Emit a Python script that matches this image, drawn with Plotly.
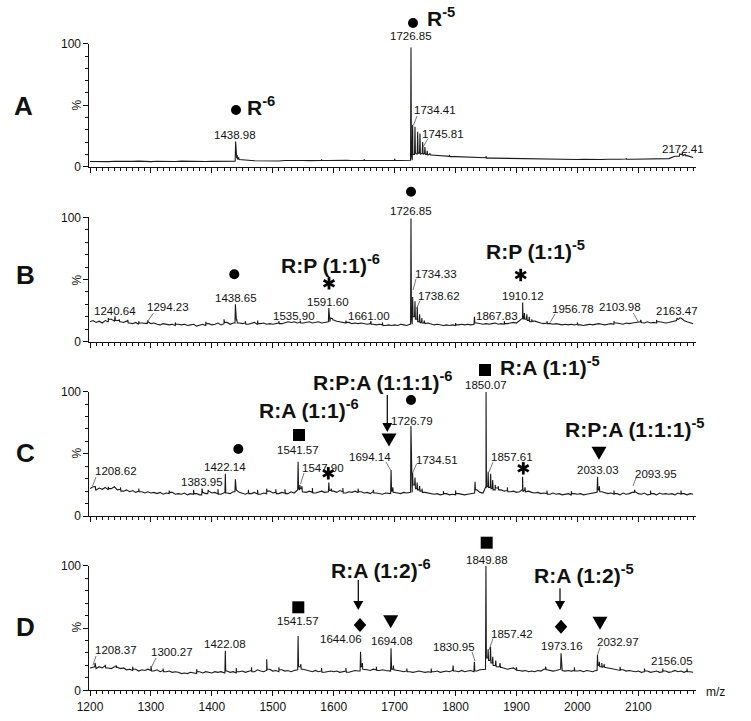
import plotly.graph_objects as go

W, H = 751, 721
FONT = "Liberation Sans, Arial, sans-serif"
INK = "#111111"

# ---------------- data ----------------
BASE_START = 1200
A_BASE_STEP = 10
A_baseline = [
    4.2, 4.0, 4.3, 4.1, 4.4, 4.2, 4.0, 4.3, 4.5, 4.2,
    4.1, 4.4, 4.3, 4.0, 4.2, 4.5, 4.3, 4.1, 4.4, 4.2,
    4.3, 4.4, 4.2, 4.5, 7.0, 5.8, 5.2, 4.8, 4.6, 4.5,
    4.7, 4.6, 5.0, 4.8, 5.2, 5.0, 4.9, 5.3, 5.1, 5.0,
    5.2, 5.0, 5.3, 5.1, 5.4, 5.2, 5.0, 5.3, 5.1, 5.0,
    5.2, 5.0, 5.3, 10.0, 11.0, 10.0, 9.5, 9.0, 8.6, 8.4,
    8.2, 8.0, 7.8, 7.6, 7.5, 7.3, 7.0, 6.9, 6.8, 6.6,
    6.5, 6.4, 6.3, 6.2, 6.0, 6.2, 6.0, 5.9, 6.1, 6.0,
    5.9, 6.0, 5.8, 6.0, 5.9, 6.1, 5.8, 6.0, 6.2, 6.0,
    6.1, 6.3, 6.0, 6.2, 6.4, 6.6, 8.5, 10.0, 9.0, 7.5]
A_peak_mz = [1438.98, 1441.5, 1444.0, 1580, 1650, 1700, 1726.85, 1729.6, 1733.4, 1737.8,
             1741.6, 1746.0, 1749.8, 1753.6, 1758.0, 1790, 1850, 2080, 2168, 2172.41, 2177]
A_peak_int = [20.4, 9.5, 7.5, 6.0, 6.2, 6.5, 97, 34, 32.5, 28.5,
              27, 20, 16, 13, 11, 9.5, 8.5, 7.0, 10.5, 11.0, 10.0]

STEP = 5
B_baseline = [
    16, 17, 15.5, 16.5, 15, 17, 16, 18, 16.5, 17,
    16, 15.5, 16.5, 15, 14.5, 15.5, 14, 15, 14.5, 16,
    14.5, 15, 14, 13.5, 14.5, 14, 13.5, 14, 13, 14,
    13.5, 14, 13, 13.5, 14, 12.5, 13.5, 14, 13, 14.5,
    13.5, 14, 15, 13.5, 14.5, 15.5, 14, 15, 17, 15,
    14.5, 15, 14, 14.5, 15.5, 14, 14.5, 15, 14, 14.5,
    14, 14.5, 15, 14.5, 15, 16, 15.5, 16, 15, 15.5,
    15, 15.5, 16, 15, 15.5, 16, 15, 15.5, 16, 19,
    17.5, 16.5, 16, 15.5, 15, 15.5, 14.5, 15, 14.5, 15,
    14.5, 14, 14.5, 14, 13.5, 14, 13.5, 13, 13.5, 13,
    13.5, 13, 14, 13.5, 13, 14, 20, 18, 16, 15,
    14.5, 15, 14, 13.5, 14, 13.5, 13, 13.5, 13, 13.5,
    13, 13.5, 14, 13.5, 14, 13.5, 14, 15, 14.5, 14,
    14.5, 14, 14.5, 15, 14, 14.5, 14, 14.5, 15, 15.5,
    15, 17, 19, 18, 17, 16, 16.5, 15.5, 15, 14.5,
    15, 14.5, 14, 14.5, 14, 13.5, 14, 13.5, 14, 13.5,
    14, 13.5, 13, 13.5, 14, 13.5, 14, 14.5, 14, 13.5,
    14, 14.5, 14, 15, 14.5, 14, 15, 14.5, 15, 15.5,
    16, 15.5, 15, 16, 15, 15.5, 15, 16, 15.5, 15,
    15.5, 16, 17, 18, 19, 17, 16, 15, 14.5]
B_peak_mz = [1230, 1241, 1248, 1262, 1294.6, 1420, 1438.65, 1441, 1475, 1592, 1594.5, 1598,
             1661, 1726.85, 1729.6, 1733.4, 1737.2, 1741, 1744.8, 1748.6, 1831, 1910.12,
             1913, 1917, 1921, 1925, 1950, 2104, 2163.47, 2167]
B_peak_int = [19, 20.5, 18, 17.5, 17, 18, 30, 18, 17, 27, 19, 18.5,
              16.5, 99, 36, 32.5, 28, 22, 19, 17, 20, 31.5,
              23, 22, 20, 18, 16.5, 17.5, 19, 18.5]
B_noise_mz = [1280, 1340, 1390, 1455, 1510, 1545, 1620, 1680, 1800, 1880, 2000, 2060, 2130]
B_noise_int = [16.5, 15.5, 16, 16.5, 16.5, 17, 17, 15.5, 15, 16.5, 15.5, 16.5, 17.5]

C_baseline = [
    22, 23.5, 21, 22.5, 21.5, 23, 21, 22, 23.5, 21,
    21.5, 20, 21, 19.5, 20.5, 19, 20, 19.5, 18.5, 19.5,
    18.5, 19, 18, 19, 17.5, 18.5, 18, 19, 17.5, 18,
    17.5, 18.5, 17, 18, 17.5, 18, 17, 19, 18, 20,
    18.5, 19, 18, 17.5, 19, 18.5, 18, 19.5, 21, 19,
    18.5, 17.5, 18.5, 18, 19, 18, 17.5, 18.5, 18, 20,
    18.5, 19, 18, 19, 18.5, 18, 19.5, 18.5, 21, 22,
    19.5, 19, 20, 19, 18.5, 19.5, 20, 19, 19.5, 20.5,
    20, 19, 20.5, 19.5, 18.5, 19.5, 19, 20, 19, 19.5,
    18.5, 19, 18, 19.5, 18.5, 18, 17.5, 18.5, 18, 20,
    19, 18.5, 18, 19, 18.5, 19, 25, 22, 21, 20,
    19, 18.5, 18, 17.5, 18, 17, 17.5, 18, 17, 17.5,
    17, 18, 17.5, 17, 17.5, 18, 18.5, 21, 19, 18.5,
    24, 23, 22, 21, 22.5, 21, 20, 20.5, 19.5, 20,
    19, 19.5, 21, 19.5, 20, 19, 18.5, 19, 18, 18.5,
    18, 17.5, 18.5, 17.5, 18, 17, 17.5, 18, 17, 18,
    17.5, 18, 17, 17.5, 18, 18.5, 19, 21, 19.5, 19,
    18, 18.5, 17.5, 18, 17, 18.5, 17.5, 18, 19, 19.5,
    18, 17.5, 18.5, 17, 17.5, 18, 17, 18.5, 17.5, 18,
    17.5, 18, 17, 18.5, 17.5, 18, 17, 18, 17.5]
C_peak_mz = [1208.62, 1230, 1384, 1394, 1422.14, 1438.6, 1460, 1490, 1520, 1541.57, 1544.5,
             1547.9, 1592, 1596, 1694.14, 1697, 1726.79, 1729.5, 1733.5, 1737, 1741, 1745,
             1832, 1850.07, 1853.5, 1857.61, 1861, 1865, 1870, 1910, 1914, 2033.03, 2036, 2094]
C_peak_int = [24, 23.5, 22, 21, 34, 29.5, 21, 22, 21.5, 43.7, 25,
              24, 27, 22, 37, 23, 72.4, 35, 31, 27, 24, 22,
              27.6, 100, 35.6, 34, 29, 25, 24, 31.6, 23, 31.6, 24, 21]
C_noise_mz = [1250, 1280, 1330, 1370, 1410, 1475, 1505, 1565, 1615, 1640, 1665, 1780, 1800,
              1885, 1950, 1990, 2060, 2120, 2170]
C_noise_int = [23, 22, 20.5, 21, 21.5, 21, 21.5, 22.5, 22.5, 22, 21, 20, 20.5,
               23, 20.5, 20, 20.5, 20.5, 20.5]

D_baseline = [
    18, 19, 17.5, 19, 18, 19.5, 18, 17.5, 19, 18.5,
    17.5, 18, 16.5, 17, 16, 17, 15.5, 16.5, 16, 17,
    16, 15.5, 16.5, 15, 16, 15, 15.5, 14.5, 15, 14.5,
    13.5, 14, 13.5, 14.5, 14, 13.5, 15, 14, 15, 14.5,
    14, 15, 14.5, 15, 14, 15.5, 14.5, 15, 14, 15,
    15.5, 14.5, 15, 16, 15, 16.5, 15.5, 15, 16, 17,
    15.5, 16, 15, 16.5, 15.5, 16, 15, 16, 16.5, 19,
    17, 16.5, 15.5, 15, 16, 15, 15.5, 14.5, 15, 15.5,
    15, 15.5, 14.5, 15, 15.5, 14.5, 15, 16, 15.5, 19,
    17, 16.5, 16, 17, 16.5, 16, 16.5, 16, 15.5, 17,
    16.5, 16, 15.5, 15, 15.5, 15, 14.5, 15, 15.5, 15,
    14.5, 15, 14.5, 15, 15.5, 14.5, 15, 15.5, 15, 16,
    15.5, 15, 16, 15, 15.5, 16, 15, 15.5, 16.5, 17,
    26, 24, 22, 20, 19, 18.5, 18, 17, 17.5, 18,
    16.5, 16, 15.5, 16, 15, 15.5, 15, 16, 15.5, 17,
    16.5, 16, 15.5, 16, 17, 16, 15.5, 16, 15.5, 16,
    15.5, 16, 15, 16, 15.5, 15, 16, 20, 19, 18.5,
    18, 17.5, 17, 16.5, 16, 16.5, 15.5, 16, 15.5, 15,
    15.5, 14.5, 15, 15.5, 14.5, 15, 15.5, 14.5, 15, 15.5,
    14.5, 15, 16, 15, 15.5, 14.5, 15.5, 15, 14.5]
D_peak_mz = [1208.37, 1243, 1300.27, 1422.08, 1490, 1541.57, 1546, 1644.06, 1647, 1694.08,
             1698, 1796, 1830.95, 1849.88, 1853.5, 1857.42, 1861, 1866, 1873, 1948,
             1973.16, 2032.97, 2036, 2040, 2044]
D_peak_int = [22, 20, 19.5, 31.8, 25, 43.6, 21, 31, 22, 33.7,
              20, 20, 23, 100, 33, 35, 27, 24, 22, 19,
              29.7, 28.3, 23, 22, 21]
D_noise_mz = [1225, 1270, 1320, 1375, 1440, 1465, 1510, 1580, 1620, 1670, 1720, 1760, 1900,
              1995, 2070, 2110, 2140, 2180]
D_noise_int = [20.5, 19, 17.5, 17, 18, 18.5, 18.5, 18, 18, 19, 17.5, 17.5, 18.5,
               18.5, 19, 17.5, 17.5, 17.5]

A_labels = ["1438.98", "1726.85", "1734.41", "1745.81", "2172.41"]
B_labels = ["1240.64", "1294.23", "1438.65", "1535.90", "1591.60", "1661.00", "1726.85",
            "1734.33", "1738.62", "1867.83", "1910.12", "1956.78", "2103.98", "2163.47"]
C_labels = ["1208.62", "1383.95", "1422.14", "1541.57", "1547.90", "1694.14", "1726.79",
            "1734.51", "1850.07", "1857.61", "2033.03", "2093.95"]
D_labels = ["1208.37", "1300.27", "1422.08", "1541.57", "1644.06", "1694.08", "1830.95",
            "1849.88", "1857.42", "1973.16", "2032.97", "2156.05"]

A_species = ["R<sup>-6</sup>", "R<sup>-5</sup>"]
B_species = ["R:P (1:1)<sup>-6</sup>", "R:P (1:1)<sup>-5</sup>"]
C_species = ["R:A (1:1)<sup>-6</sup>", "R:P:A (1:1:1)<sup>-6</sup>", "R:A (1:1)<sup>-5</sup>",
             "R:P:A (1:1:1)<sup>-5</sup>"]
D_species = ["R:A (1:2)<sup>-6</sup>", "R:A (1:2)<sup>-5</sup>"]
panel_letters = ["A", "B", "C", "D"]


# ---------------- build traces ----------------
def spectrum(step, base, pk_mz, pk_int):
    pts = [(BASE_START + i * step, v) for i, v in enumerate(base)]
    n = len(base)
    for m, h in zip(pk_mz, pk_int):
        f = int((m - BASE_START) // step)
        f = max(0, min(n - 1, f))
        c = max(0, min(n - 1, f + 1))
        pts += [(m - 0.7, base[f]), (m, h), (m + 0.7, base[c])]
    pts.sort()
    return [p[0] for p in pts], [p[1] for p in pts]


panels = [
    (A_BASE_STEP, A_baseline, A_peak_mz, A_peak_int),
    (STEP, B_baseline, B_peak_mz + B_noise_mz, B_peak_int + B_noise_int),
    (STEP, C_baseline, C_peak_mz + C_noise_mz, C_peak_int + C_noise_int),
    (STEP, D_baseline, D_peak_mz + D_noise_mz, D_peak_int + D_noise_int),
]

fig = go.Figure()
# pixel geometry of each panel: (top px of 100 %, bottom px of 0 %)
PANEL_PX = [(43.7, 166.7), (217.3, 341.7), (391.7, 516.0), (565.7, 690.4)]
X_LEFT, X_RIGHT = 89.4, 696.2

for i, (step, base, pm, pi) in enumerate(panels):
    xs, ys = spectrum(step, base, pm, pi)
    sfx = "" if i == 0 else str(i + 1)
    fig.add_trace(go.Scatter(x=xs, y=ys, mode="lines", xaxis="x" + sfx, yaxis="y" + sfx,
                             line=dict(color="#1a1a1a", width=1.1), hoverinfo="skip",
                             showlegend=False))
    top, bot = PANEL_PX[i]
    last = i == 3
    fig.layout["xaxis" + sfx] = dict(
        domain=[X_LEFT / W, X_RIGHT / W], anchor="y" + sfx, range=[1199, 2195],
        automargin=False,
        showline=True, linecolor=INK, linewidth=1, showgrid=False, zeroline=False,
        ticks="outside", ticklen=5, tickcolor=INK, tick0=1200, dtick=100,
        showticklabels=last, tickfont=dict(family=FONT, size=12, color=INK),
        minor=dict(ticks="outside", ticklen=3, tickcolor=INK, dtick=10, tick0=1200),
    )
    fig.layout["yaxis" + sfx] = dict(
        domain=[1 - bot / H, 1 - top / H], anchor="x" + sfx, range=[0, 100],
        automargin=False,
        showline=True, linecolor=INK, linewidth=1, showgrid=False, zeroline=False,
        ticks="outside", ticklen=5, tickcolor=INK, tickvals=[0, 50, 100],
        ticktext=["0", "", "100"], tickfont=dict(family=FONT, size=12, color=INK),
        minor=dict(ticks="outside", ticklen=3, tickcolor=INK, dtick=10, tick0=0),
    )

# ---------------- annotations & symbols (pixel positions) ----------------
ann = []
shapes = []


def text(t, px, py, size=11.5, bold=False, xanchor="center", angle=0):
    ann.append(dict(text=f"<b>{t}</b>" if bold else t, x=px / W, y=1 - py / H,
                    xref="paper", yref="paper", showarrow=False, xanchor=xanchor,
                    yanchor="middle", textangle=angle,
                    font=dict(family=FONT, size=size, color=INK)))


def path(pts):
    d = "M " + " L ".join(f"{x / W:.5f},{1 - y / H:.5f}" for x, y in pts) + " Z"
    shapes.append(dict(type="path", xref="paper", yref="paper", path=d,
                       fillcolor="black", line=dict(width=0)))


def circle(cx, cy, d=10):
    r = d / 2
    shapes.append(dict(type="circle", xref="paper", yref="paper",
                       x0=(cx - r) / W, x1=(cx + r) / W, y0=1 - (cy + r) / H,
                       y1=1 - (cy - r) / H, fillcolor="black", line=dict(width=0)))


def square(cx, cy, s=12):
    h = s / 2
    path([(cx - h, cy - h), (cx + h, cy - h), (cx + h, cy + h), (cx - h, cy + h)])


def tri(cx, cy, w=15, h=13):
    path([(cx - w / 2, cy - h / 2), (cx + w / 2, cy - h / 2), (cx, cy + h / 2)])


def diamond(cx, cy, w=12.5, h=14):
    path([(cx, cy - h / 2), (cx + w / 2, cy), (cx, cy + h / 2), (cx - w / 2, cy)])


def seg(x0, y0, x1, y1, w=1.0, color=INK):
    shapes.append(dict(type="line", xref="paper", yref="paper", x0=x0 / W, y0=1 - y0 / H,
                       x1=x1 / W, y1=1 - y1 / H, line=dict(color=color, width=w)))


def asterisk(cx, cy, r=6.2):
    import math
    for a in (90, 30, 150):
        dx, dy = r * math.cos(math.radians(a)), r * math.sin(math.radians(a))
        seg(cx - dx, cy - dy, cx + dx, cy + dy, w=2.8, color="black")


def arrow(x, y0, y1):
    seg(x, y0, x, y1 - 8, w=1.3)
    path([(x - 5, y1 - 9), (x + 5, y1 - 9), (x, y1)])


# panel letters and % labels
for letter, (lx, ly), py in zip(panel_letters, [(23.5, 106), (26, 275), (26, 453), (26, 627)],
                                [105, 280, 453, 627]):
    text(letter, lx, ly, size=26, bold=True)
    text("%", 76.5, py, size=12, angle=-90)

# Panel A
for t, (x, y) in zip(A_labels, [(235, 135), (411, 36), (434.5, 110.5), (443.5, 133.8), (682.5, 148.7)]):
    text(t, x, y)
for t, (x, y) in zip(A_species, [(244.5, 106), (424.5, 17)]):
    text(t, x, y, size=21, bold=True, xanchor="left")
circle(236, 110)
circle(413, 23)
seg(417, 116, 413.5, 125, w=0.8, color="#555")
seg(428, 138.5, 423, 147, w=0.8, color="#555")

# Panel B
for t, (x, y) in zip(B_labels, [(114.7, 311.2), (168, 307.2), (235.8, 297.8), (294.2, 315.5),
                                 (328.3, 302.2), (368.5, 315.5), (410.8, 211.3), (436.2, 273.8),
                                 (439.2, 295.5), (497.2, 315.5), (523.2, 295.5), (572.5, 309.2),
                                 (620.2, 307.2), (677.2, 311.3)]):
    text(t, x, y)
for t, (x, y) in zip(B_species, [(278.8, 264), (483.8, 250)]):
    text(t, x, y, size=21, bold=True, xanchor="left")
circle(234.3, 274.3)
circle(411, 191.7)
asterisk(329, 283.3)
asterisk(520.7, 275)
seg(153.3, 313.3, 146.7, 322.5, w=0.8, color="#555")
seg(416, 279, 413, 290, w=0.8, color="#555")
seg(420, 300.5, 416.5, 309, w=0.8, color="#555")
seg(555, 314, 550, 322.7, w=0.8, color="#555")
seg(633.3, 313, 638.3, 322, w=0.8, color="#555")

# Panel C
for t, (x, y) in zip(C_labels, [(115.8, 471.2), (201.7, 482), (225.3, 467.2), (298.2, 450.5),
                                 (322.8, 468.3), (369.5, 457.2), (411.8, 420.5), (436.5, 459.5),
                                 (485.8, 384.7), (511.5, 457.2), (597.5, 470), (655.8, 473.8)]):
    text(t, x, y)
for t, (x, y) in zip(C_species, [(256.8, 409), (311.2, 380.5), (497.8, 365.5), (562.8, 428.5)]):
    text(t, x, y, size=21, bold=True, xanchor="left")
circle(238.3, 449)
circle(411, 400)
square(299, 435)
square(485, 370)
arrow(387.3, 395, 432)
tri(389, 440)
tri(599, 453.3)
asterisk(328.3, 473.3)
asterisk(523.3, 468.3)
seg(96, 477, 92.5, 486, w=0.8, color="#555")
seg(304, 473, 300.5, 484, w=0.8, color="#555")
seg(386, 462, 390.5, 470, w=0.8, color="#555")
seg(416.5, 464, 412.5, 473, w=0.8, color="#555")
seg(493, 462, 489, 472, w=0.8, color="#555")
seg(636, 478, 633, 486, w=0.8, color="#555")

# Panel D
for t, (x, y) in zip(D_labels, [(115.8, 650), (172.2, 652), (225.3, 643.7), (298.2, 621.3),
                                 (340.5, 639.2), (392, 641.2), (453.5, 647.2), (486.5, 559.5),
                                 (512, 633.8), (561.5, 645.5), (618.3, 642), (672.2, 660.5)]):
    text(t, x, y)
for t, (x, y) in zip(D_species, [(328.8, 568.5), (532.2, 573.5)]):
    text(t, x, y, size=21, bold=True, xanchor="left")
square(298.3, 607.3)
square(486.7, 542.7)
arrow(358.3, 580, 610)
arrow(560, 588.3, 610)
diamond(360, 625)
diamond(561, 626.7)
tri(390.7, 621.7)
tri(600, 623.3)
seg(96, 656, 93, 665, w=0.8, color="#555")
seg(156, 658, 151.5, 667, w=0.8, color="#555")
seg(472, 652, 475, 661, w=0.8, color="#555")
seg(493, 638.5, 489, 650, w=0.8, color="#555")
seg(600, 647.5, 597.5, 655, w=0.8, color="#555")
text("m/z", 715, 691.5, size=12)

fig.update_layout(
    width=W, height=H, margin=dict(l=0, r=0, t=0, b=0, pad=0, autoexpand=False),
    paper_bgcolor="white", plot_bgcolor="white", showlegend=False,
    annotations=ann, shapes=shapes,
    font=dict(family=FONT, color=INK),
)

fig.write_html("out.html", config={"displayModeBar": False},
               post_script="document.body.style.margin='0';")
